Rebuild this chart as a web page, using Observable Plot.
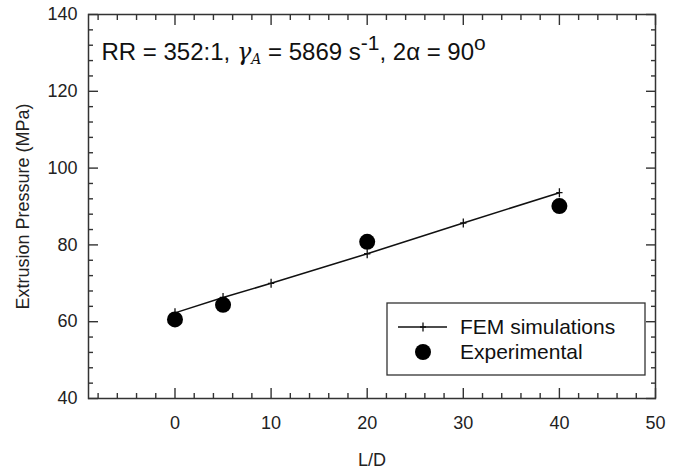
<!DOCTYPE html>
<html>
<head>
<meta charset="utf-8">
<script src="https://cdn.jsdelivr.net/npm/d3@7"></script>
<script src="https://cdn.jsdelivr.net/npm/@observablehq/plot@0.6"></script>
<style>
  html, body { margin: 0; padding: 0; background: #fff; }
  #chart svg { display: block; font-family: "Liberation Sans", Arial, sans-serif; }
</style>
</head>
<body>
<div id="chart"></div>
<script>
// FEM simulations
const femLD = [0, 5, 10, 20, 30, 40];
const femPressure = [62.3, 66.3, 70.0, 77.7, 85.7, 93.6];
// Experimental
const expLD = [0, 5, 20, 40];
const expPressure = [60.6, 64.4, 80.8, 90.1];
// Axis ticks
const xTicks = [0, 10, 20, 30, 40, 50];
const yTicks = [40, 60, 80, 100, 120, 140];
const xMinor = d3.range(-8, 50, 2).filter(v => v % 10 !== 0);
const yMinor = d3.range(44, 140, 4).filter(v => v % 20 !== 0);

const fem = femLD.map((x, i) => ({x, y: femPressure[i]}));
const exp = expLD.map((x, i) => ({x, y: expPressure[i]}));

const thinPlus = {
  draw(ctx, size) {
    const r = Math.sqrt(size / Math.PI);
    ctx.moveTo(0, -r); ctx.lineTo(0, r);
    ctx.moveTo(-r * 0.7, 0); ctx.lineTo(r * 0.7, 0);
  }
};

const tickColor = "#333";
const plot = Plot.plot({
  width: 680,
  height: 468,
  marginLeft: 88,
  marginRight: 25,
  marginTop: 14,
  marginBottom: 70,
  style: {fontFamily: "Liberation Sans, Arial, sans-serif", fontSize: "18px", color: "#222"},
  x: {domain: [-9, 50]},
  y: {domain: [40, 140]},
  marks: [
    // inward major/minor ticks, all four sides
    Plot.axisX({anchor: "bottom", ticks: xTicks, tickSize: -10, text: null, label: null, stroke: tickColor, strokeWidth: 1.4}),
    Plot.axisX({anchor: "bottom", ticks: xMinor, tickSize: -5, text: null, label: null, stroke: tickColor, strokeWidth: 1.4}),
    Plot.axisX({anchor: "top", ticks: xTicks, tickSize: -10, text: null, label: null, stroke: tickColor, strokeWidth: 1.4}),
    Plot.axisX({anchor: "top", ticks: xMinor, tickSize: -5, text: null, label: null, stroke: tickColor, strokeWidth: 1.4}),
    Plot.axisY({anchor: "left", ticks: yTicks, tickSize: -10, text: null, label: null, stroke: tickColor, strokeWidth: 1.4}),
    Plot.axisY({anchor: "left", ticks: yMinor, tickSize: -5, text: null, label: null, stroke: tickColor, strokeWidth: 1.4}),
    Plot.axisY({anchor: "right", ticks: yTicks, tickSize: -10, text: null, label: null, stroke: tickColor, strokeWidth: 1.4}),
    Plot.axisY({anchor: "right", ticks: yMinor, tickSize: -5, text: null, label: null, stroke: tickColor, strokeWidth: 1.4}),
    // tick labels
    Plot.axisX({anchor: "bottom", ticks: xTicks, tickSize: 0, tickPadding: 18, fill: "#222",
      label: "L/D", labelAnchor: "center", labelArrow: "none", labelOffset: 67}),
    Plot.axisY({anchor: "left", ticks: yTicks, tickSize: 0, tickPadding: 11, fill: "#222",
      label: "Extrusion Pressure (MPa)", labelAnchor: "center", labelArrow: "none", labelOffset: 72}),
    Plot.frame({stroke: "#333", strokeWidth: 1.5}),
    // FEM line with thin plus markers
    Plot.line(fem, {x: "x", y: "y", stroke: "#111", strokeWidth: 1.5}),
    Plot.dot(fem, {x: "x", y: "y", symbol: thinPlus, r: 4.5, stroke: "#111", strokeWidth: 1.3, fill: "none"}),
    // Experimental dots
    Plot.dot(exp, {x: "x", y: "y", r: 8, fill: "#000", stroke: "none"})
  ]
});

document.getElementById("chart").appendChild(plot);

const svg = d3.select(plot);
const sx = plot.scale("x"), sy = plot.scale("y");
svg.selectAll("text").style("font-size", "18px").style("font-family", "Liberation Sans, Arial, sans-serif");

// Annotation
const ann = svg.append("text")
  .attr("x", sx.apply(-7.6))
  .attr("y", sy.apply(128))
  .attr("text-anchor", "start")
  .style("font-size", "24px")
  .attr("fill", "#111");
ann.append("tspan").text("RR = 352:1, ");
ann.append("tspan").attr("font-family", "DejaVu Serif, serif").attr("font-style", "italic").text("γ");
ann.append("tspan").attr("font-family", "DejaVu Serif, serif").attr("font-style", "italic").style("font-size", "14px").attr("dy", 4).text("A");
ann.append("tspan").attr("dy", -4).text(" = 5869 s");
ann.append("tspan").style("font-size", "21px").attr("dy", -10).text("-1");
ann.append("tspan").attr("dy", 10).text(", 2α = 90");
ann.append("tspan").style("font-size", "21px").attr("dy", -10).text("o");

// Legend
const lg = svg.append("g").style("font-size", "21px").attr("fill", "#111").attr("text-anchor", "start");
lg.append("rect").attr("x", 387).attr("y", 303).attr("width", 258).attr("height", 72)
  .attr("fill", "#fff").attr("stroke", "#333").attr("stroke-width", 1.3);
lg.append("line").attr("x1", 398).attr("x2", 447).attr("y1", 327).attr("y2", 327)
  .attr("stroke", "#111").attr("stroke-width", 1.5);
lg.append("path").attr("d", "M423,322.5V331.5M420,327H426").attr("stroke", "#111").attr("stroke-width", 1.3);
lg.append("text").attr("x", 460).attr("y", 334).text("FEM simulations");
lg.append("circle").attr("cx", 423).attr("cy", 352).attr("r", 8).attr("fill", "#000");
lg.append("text").attr("x", 460).attr("y", 359).text("Experimental");
</script>
</body>
</html>
